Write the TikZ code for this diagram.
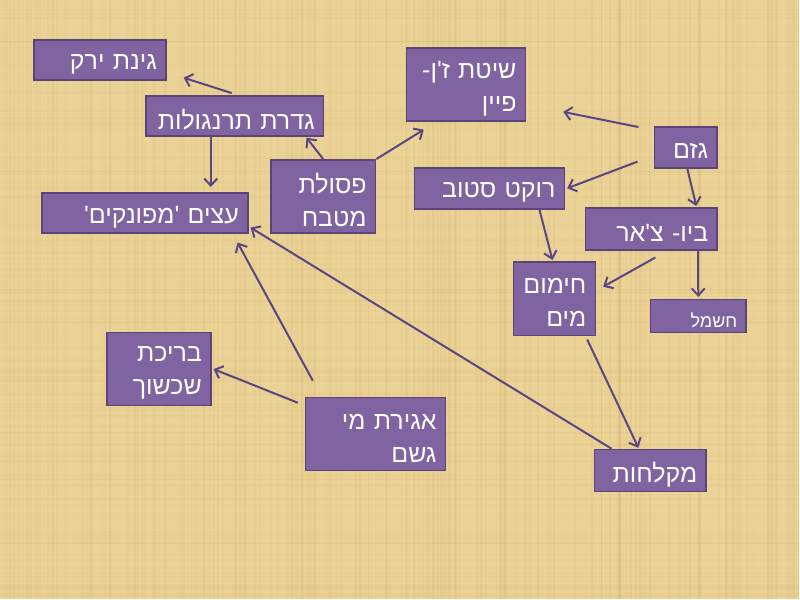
\documentclass[tikz,border=0pt]{standalone}
\usepackage{fontspec}
\newfontfamily\hebfont{Liberation Sans}[Script=Hebrew]
\TeXXeTstate=1
\usepackage{xcolor}
\usetikzlibrary{arrows.meta,calc}
\definecolor{boxfill}{RGB}{128,100,162}
\definecolor{boxline}{RGB}{90,68,122}
\definecolor{arrline}{RGB}{90,70,130}
\definecolor{paper}{RGB}{235,210,150}
\definecolor{fibre}{RGB}{196,160,92}
\newcommand{\heb}[1]{\raisebox{-4pt}[\height][\depth]{\mbox{\beginR #1\endR}}}

\begin{document}
\begin{tikzpicture}[x=1pt, y=-1pt,
    box/.style={rectangle, draw=boxline, fill=boxfill, line width=1.6pt, text=white, align=right,
        inner xsep=9pt, inner ysep=2pt, font=\hebfont\fontsize{25}{33}\selectfont},
    arr/.style={draw=arrline, line width=2pt, -{Straight Barb[length=7pt,width=13pt]}}]
    \fill[paper] (0,0) rectangle (800,600);
    \pgfmathsetseed{7}
    \foreach \i in {1,...,220}
        \fill[fibre, opacity={0.12*rnd}] ({800*rnd},0) rectangle ++({1+2*rnd},600);
    \foreach \i in {1,...,140}
        \fill[fibre, opacity={0.07*rnd}] (0,{600*rnd}) rectangle ++(800,{1+2*rnd});
    \useasboundingbox (0,0) rectangle (800,600);

    \node (ginat) [box, text width=114pt, minimum height=40pt] at (100,60) {\heb{גינת ירק}};
    \node (gderet) [box, text width=160pt, minimum height=40pt] at (235,116) {\heb{גדרת תרנגולות}};
    \node (etzim) [box, text width=188pt, minimum height=40pt] at (145,213) {\heb{עצים 'מפונקים'}};
    \node (psolet) [box, text width=87pt, minimum height=73pt] at (323.5,196.5) {\heb{פסולת}\\\heb{מטבח}};
    \node (shitat) [box, text width=101pt, minimum height=73pt] at (466.5,84.5) {\heb{שיטת ז'ן-}\\\heb{פיין}};
    \node (gezem) [box, text width=45pt, minimum height=41pt] at (686.5,147.5) {\heb{גזם}};
    \node (rocket) [box, text width=132pt, minimum height=41pt] at (490,188.5) {\heb{רוקט סטוב}};
    \node (bio) [box, text width=114pt, minimum height=42pt] at (652,229) {\heb{ביו- צ'אר}};
    \node (chimum) [box, text width=64pt, minimum height=74pt] at (555,299) {\heb{חימום}\\\heb{מים}};
    \node (chashmal) [box, text width=78pt, minimum height=33pt, font=\hebfont\fontsize{18}{22}\selectfont] at (699,316.5) {\heb{חשמל}};
    \node (breicha) [box, text width=86pt, minimum height=73pt] at (159,369.5) {\heb{בריכת}\\\heb{שכשוך}};
    \node (agira) [box, text width=122pt, minimum height=73pt] at (376,434.5) {\heb{אגירת מי}\\\heb{גשם}};
    \node (miklachot) [box, text width=94pt, minimum height=42pt] at (651,471) {\heb{מקלחות}};

    \draw[arr] ($(gderet.north)+(-3,-2)$) -- ($(ginat.south east)+(17,-3)$);
    \draw[arr] ($(gderet.south)+(-24,0)$) -- ($(etzim.north)+(66,-5)$);
    \draw[arr] (psolet.north) -- ($(gderet.south east)+(-18,1)$);
    \draw[arr] (psolet.north east) -- ($(shitat.south west)+(18,8)$);
    \draw[arr] ($(gezem.north west)+(-15,1)$) -- ($(shitat.east)+(37,27.5)$);
    \draw[arr] ($(gezem.south west)+(-16,-7)$) -- ($(rocket.east)+(2,0)$);
    \draw[arr] ($(gezem.south)+(1.5,0)$) -- ($(bio.north)+(45,-1)$);
    \draw[arr] ($(rocket.south)+(50,0)$) -- ($(chimum.north)+(-2,-1)$);
    \draw[arr] ($(bio.south)+(4,7)$) -- ($(chimum.east)+(7,-12)$);
    \draw[arr] ($(bio.south east)+(-20,0)$) -- ($(chashmal.north)+(0,-2)$);
    \draw[arr] ($(chimum.south east)+(-9,3)$) -- ($(miklachot.north)+(-12,-1)$);
    \draw[arr] ($(miklachot.north west)+(18,0)$) -- ($(etzim.south east)+(2,-6)$);
    \draw[arr] ($(agira.north west)+(8,-16)$) -- ($(etzim.south east)+(-11,9)$);
    \draw[arr] ($(agira.north west)+(-7,6)$) -- ($(breicha.east)+(2,0)$);
\end{tikzpicture}
\end{document}
